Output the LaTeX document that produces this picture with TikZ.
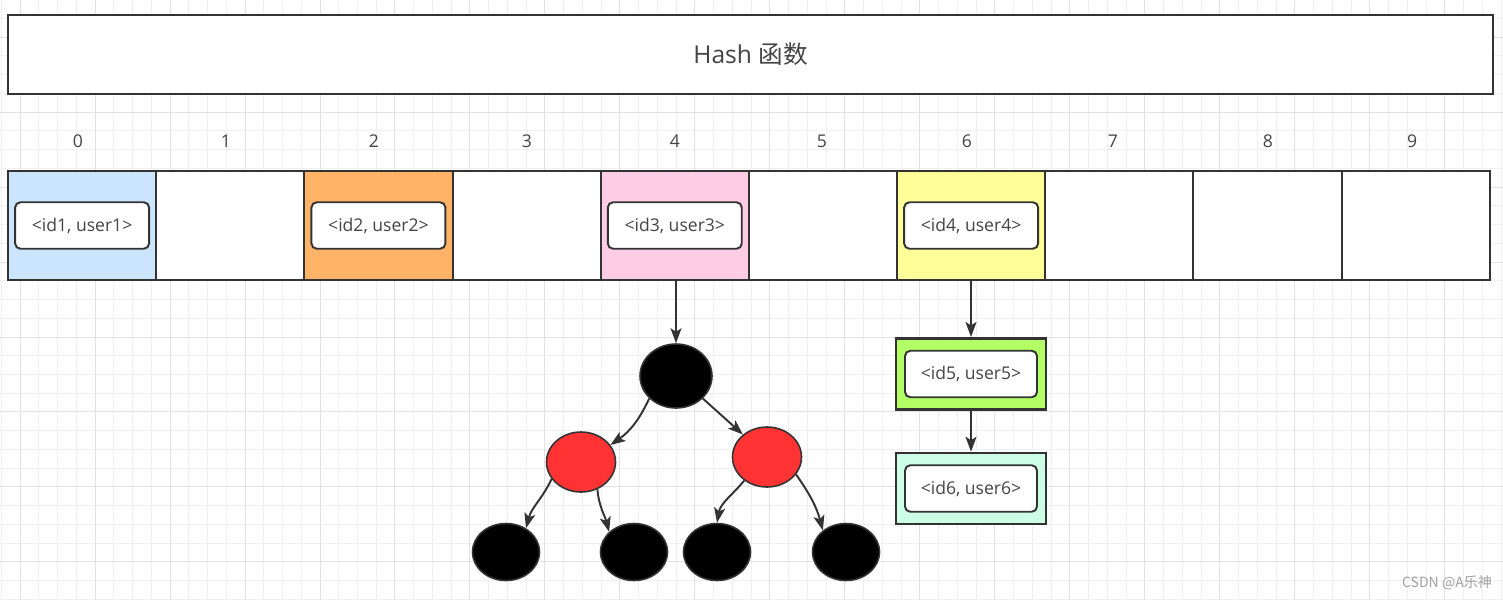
\documentclass[tikz,border=0pt]{standalone}
\usepackage{fontspec}
\setmainfont{Open Sans}
\newfontfamily\cjk{Noto Sans CJK SC}
\usepackage{xcolor}
\usetikzlibrary{shapes.geometric,arrows.meta,positioning}
\definecolor{borderdark}{RGB}{51,51,51}
\definecolor{textgray}{RGB}{68,68,68}
\definecolor{markgray}{RGB}{160,160,160}
\definecolor{slotblue}{RGB}{204,229,255}
\definecolor{slotorange}{RGB}{255,179,102}
\definecolor{slotpink}{RGB}{255,204,230}
\definecolor{slotyellow}{RGB}{255,255,153}
\definecolor{listgreen}{RGB}{179,255,102}
\definecolor{listmint}{RGB}{204,255,230}
\definecolor{nodered}{RGB}{255,51,51}
\definecolor{gridminor}{RGB}{240,240,240}
\definecolor{gridmajor}{RGB}{226,226,226}
\tikzset{
    % Define standard node styles
    hashbox/.style={
        rectangle, draw=borderdark, line width=1.1pt, fill=white,
        minimum width=29.7cm, minimum height=1.58cm,
        text=textgray, font=\fontsize{14}{16}\selectfont
    },
    slotbox/.style={
        rectangle, draw=borderdark, line width=1.1pt, fill=white,
        minimum width=2.964cm, minimum height=2.18cm,
        inner sep=0pt, outer sep=0pt
    },
    entrybox/.style={
        rectangle, draw=borderdark, line width=1.1pt, fill=white,
        minimum width=2.68cm, minimum height=0.93cm,
        rounded corners=3pt, text=textgray,
        font=\fontsize{10}{12}\selectfont
    },
    listbox/.style={
        rectangle, draw=borderdark, line width=1.2pt,
        minimum width=3cm, minimum height=1.43cm
    },
    indexlabel/.style={
        draw=none, fill=none, text=textgray,
        font=\fontsize{10}{12}\selectfont
    },
    blacknode/.style={
        ellipse, draw=borderdark, line width=0.9pt, fill=black,
        minimum width=1.34cm, minimum height=1.14cm
    },
    rednode/.style={
        ellipse, draw=borderdark, line width=0.9pt, fill=nodered,
        minimum width=1.38cm, minimum height=1.2cm
    },
    arrow/.style={
        -{Stealth[length=0.3cm, width=0.22cm, inset=0.07cm]},
        line width=1.1pt, color=borderdark
    }
}

\begin{document}
\begin{tikzpicture}[x=0.02cm, y=-0.02cm]
\useasboundingbox (0,0) rectangle (1503,599);

% Background grid
\begin{scope}
\clip (0,0) rectangle (1503,599);
\begin{scope}[shift={(1.25,18.25)}, x=1cm, y=1cm]
\draw[step=0.375cm, color=gridminor, line width=0.5pt] (-1,-13) grid (31,1);
\end{scope}
\begin{scope}[shift={(20,37)}, x=1cm, y=1cm]
\draw[step=1.5cm, color=gridmajor, line width=0.5pt] (-1,-13) grid (31,1);
\end{scope}
\end{scope}

% Hash function
\node[hashbox] (hash) at (750.5,54.5) {Hash {\cjk 函数}};

% Bucket indices
\node[indexlabel] (idx0) at (78,141) {0};
\node[indexlabel] (idx1) at (226,141) {1};
\node[indexlabel] (idx2) at (374,141) {2};
\node[indexlabel] (idx3) at (527,141) {3};
\node[indexlabel] (idx4) at (675,141) {4};
\node[indexlabel] (idx5) at (822,141) {5};
\node[indexlabel] (idx6) at (967,141) {6};
\node[indexlabel] (idx7) at (1113,141) {7};
\node[indexlabel] (idx8) at (1268,141) {8};
\node[indexlabel] (idx9) at (1412,141) {9};

% Bucket array
\node[slotbox, fill=slotblue] (cell0) at (82.1,225.5) {};
\node[slotbox, right=0pt of cell0] (cell1) {};
\node[slotbox, fill=slotorange, right=0pt of cell1] (cell2) {};
\node[slotbox, right=0pt of cell2] (cell3) {};
\node[slotbox, fill=slotpink, right=0pt of cell3] (cell4) {};
\node[slotbox, right=0pt of cell4] (cell5) {};
\node[slotbox, fill=slotyellow, right=0pt of cell5] (cell6) {};
\node[slotbox, right=0pt of cell6] (cell7) {};
\node[slotbox, right=0pt of cell7] (cell8) {};
\node[slotbox, right=0pt of cell8] (cell9) {};

% Entries stored in buckets
\node[entrybox] (entry1) at (cell0) {<id1, user1>};
\node[entrybox] (entry2) at (cell2) {<id2, user2>};
\node[entrybox] (entry3) at (cell4) {<id3, user3>};
\node[entrybox] (entry4) at (cell6) {<id4, user4>};

% Red-black tree under bucket 4
\node[blacknode, minimum width=1.44cm, minimum height=1.28cm] (root) at (676,376) {};
\node[rednode] (redleft) at (581,462) {};
\node[rednode] (redright) at (767,457) {};
\node[blacknode] (leaf1) at (506,552) {};
\node[blacknode] (leaf2) at (634,552) {};
\node[blacknode] (leaf3) at (717,552) {};
\node[blacknode] (leaf4) at (846,552) {};

% Linked list under bucket 6
\node[listbox, fill=listgreen, line width=1.5pt] (bucketA) at (971,374) {};
\node[entrybox, minimum width=2.64cm] (entry5) at (bucketA) {<id5, user5>};
\node[listbox, fill=listmint] (bucketB) at (971,488.5) {};
\node[entrybox, minimum width=2.64cm] (entry6) at (bucketB) {<id6, user6>};

% Bucket arrows
\draw[arrow] (root |- cell4.south) -- (root);
\draw[arrow] (bucketA |- cell6.south) -- (bucketA);
\draw[arrow] (bucketA) -- (bucketB);

% Tree arrows
\draw[arrow] (root.-140) to[out=-115, in=35] (redleft.30);
\draw[arrow] (root.-40) -- (redright.137);
\draw[arrow] (redleft.-150) to[out=-115, in=75] (leaf1.50);
\draw[arrow] (redleft.-59) to[out=-85, in=105] (leaf2.141);
\draw[arrow] (redright.-134) to[out=-130, in=80] (leaf3.90);
\draw[arrow] (redright.-31) to[out=-55, in=105] (leaf4.137);

% Watermark
\node[text=markgray, font=\cjk\fontsize{8}{10}\selectfont] (mark) at (1447,583) {CSDN @A乐神};

\end{tikzpicture}
\end{document}
